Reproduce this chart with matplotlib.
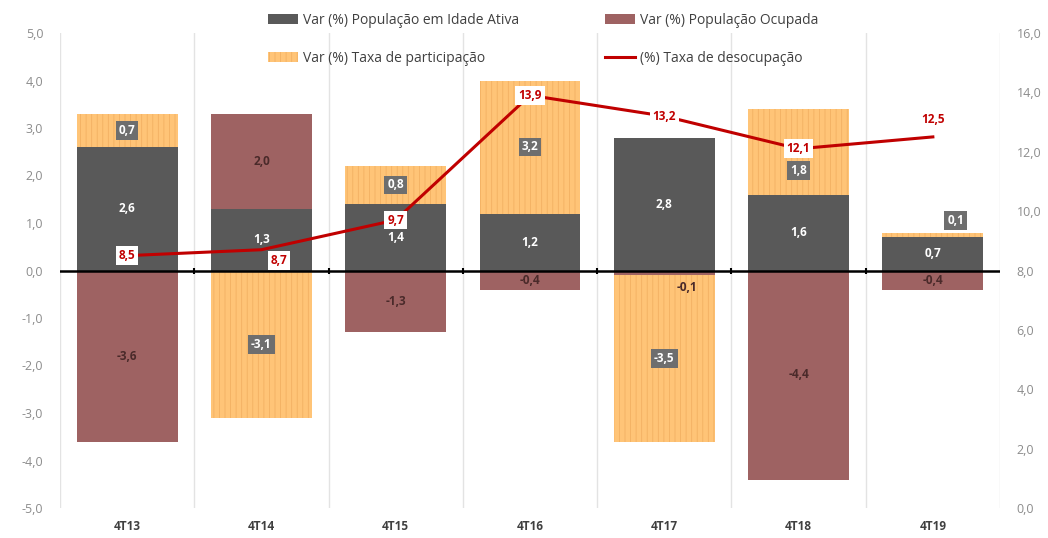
import numpy as np
import matplotlib.pyplot as plt

# ------------------------------------------------
# Data
# ------------------------------------------------
periodos = ["4T13", "4T14", "4T15", "4T16", "4T17", "4T18", "4T19"]
pop_idade_ativa = [2.6, 1.3, 1.4, 1.2, 2.8, 1.6, 0.7]
pop_ocupada = [-3.6, 2.0, -1.3, -0.4, -0.1, -4.4, -0.4]
taxa_participacao = [0.7, -3.1, 0.8, 2.8, -3.5, 1.8, 0.1]
taxa_part_labels = ["0,7", "-3,1", "0,8", "3,2", "-3,5", "1,8", "0,1"]
taxa_desocupacao = [8.5, 8.7, 9.7, 13.9, 13.2, 12.1, 12.5]

plt.rcParams['font.family'] = ['Open Sans', 'DejaVu Sans']
plt.rcParams['hatch.linewidth'] = 0.6
plt.rcParams['hatch.color'] = '#f2b062'

C_PIA = '#595959'
C_OCUP = '#9e6262'
C_TAXA = '#ffc477'
C_LINE = '#c00000'


def fmt(v):
    return f"{v:.1f}".replace('.', ',')


fig = plt.figure(figsize=(10.48, 5.38), dpi=100)
ax = fig.add_axes([60 / 1048, 30 / 538, 940 / 1048, 475 / 538])
x = np.arange(len(periodos))
w = 0.75

series = [
    (pop_idade_ativa, C_PIA, None, "Var (%) População em Idade Ativa"),
    (pop_ocupada, C_OCUP, None, "Var (%) População Ocupada"),
    (taxa_participacao, C_TAXA, '|||', "Var (%) Taxa de participação"),
]

pos_bottom = np.zeros(len(x))
neg_bottom = np.zeros(len(x))
handles = []
for k, (vals, col, hatch, name) in enumerate(series):
    vals = np.array(vals)
    bottom = np.where(vals >= 0, pos_bottom, neg_bottom)
    b = ax.bar(x, vals, w, bottom=bottom, color=col, hatch=hatch,
               edgecolor=col if hatch is None else '#f2b062', linewidth=0,
               label=name, zorder=2)
    handles.append(b)
    for i, v in enumerate(vals):
        yc = bottom[i] + v / 2
        xc = x[i]
        if abs(v) < 0.3:
            xc = x[i] + 0.17
            yc = bottom[i] + v + (0.25 if v > 0 else -0.25)
        if k == 0:
            ax.text(xc, yc, fmt(v), ha='center', va='center', color='white',
                    fontsize=8.5, fontweight='bold', zorder=5)
        elif k == 1:
            ax.text(xc, yc, fmt(v), ha='center', va='center', color='#4a2a2a',
                    fontsize=8.5, fontweight='bold', zorder=5)
        else:
            if i == 5:
                yc -= 0.4  # label sits lower in the original
            ax.text(xc, yc, taxa_part_labels[i], ha='center', va='center',
                    color='white', fontsize=8.5, fontweight='bold', zorder=5,
                    bbox=dict(boxstyle='square,pad=0.25', fc='#6e6e6e', ec='none'))
    pos_bottom += np.where(vals >= 0, vals, 0)
    neg_bottom += np.where(vals < 0, vals, 0)

ax.set_xlim(-0.5, len(x) - 0.5)
ax.set_ylim(-5, 5)
ax.set_yticks(np.arange(-5, 5.1, 1))
ax.set_yticklabels([fmt(t) for t in np.arange(-5, 5.1, 1)])
ax.set_xticks(x)
ax.set_xticklabels(periodos, fontsize=8.5, color='#404040', fontweight='bold')
ax.tick_params(axis='x', length=0, pad=9)
ax.tick_params(axis='y', length=0, labelsize=9, colors='#8c8c8c', pad=12)
for s in ax.spines.values():
    s.set_visible(False)
for b in np.arange(-0.5, len(x), 1):
    ax.axvline(b, color='#e3e3e3', lw=1, zorder=0)
ax.axhline(0, color='black', lw=1.8, zorder=4)
ax.plot(np.arange(0.5, len(x) - 1, 1), np.zeros(len(x) - 1), ls='none',
        marker='|', ms=5, color='black', mew=1.5, zorder=4)

# line on secondary axis
ax2 = ax.twinx()
ax2.set_ylim(0, 16)
ax2.set_yticks(np.arange(0, 16.1, 2))
ax2.set_yticklabels([fmt(t) for t in np.arange(0, 16.1, 2)])
ax2.tick_params(axis='y', length=0, labelsize=9, colors='#8c8c8c', pad=12)
for s in ax2.spines.values():
    s.set_visible(False)
ln, = ax2.plot(x, taxa_desocupacao, color=C_LINE, lw=2.2, zorder=3,
               label="(%) Taxa de desocupação")
for i, v in enumerate(taxa_desocupacao):
    dx, dy = 0, 0
    if i == 1:
        dx, dy = 0.13, -0.35
    if i == len(x) - 1:
        dy = 0.6
    ax2.text(x[i] + dx, v + dy, fmt(v), ha='center', va='center', color=C_LINE,
             fontsize=8.5, fontweight='bold', zorder=6,
             bbox=dict(boxstyle='square,pad=0.25', fc='white', ec='none'))

# row-major order: PIA, Ocupada / Taxa, Desocupacao
leg = fig.legend([handles[0], handles[2], handles[1], ln],
                 [handles[0].get_label(), handles[2].get_label(),
                  handles[1].get_label(), ln.get_label()],
                 loc='upper center', bbox_to_anchor=(0.518, 1.0), ncol=2,
                 frameon=False, fontsize=10, labelspacing=1.7,
                 columnspacing=6.2, handlelength=2.2, handletextpad=0.3)
for t in leg.get_texts():
    t.set_color('#404040')

fig.savefig("out.png", dpi=100)
